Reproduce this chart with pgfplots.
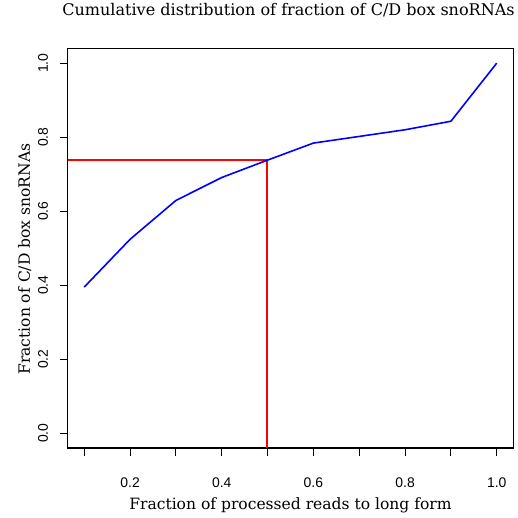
\documentclass[border=0pt]{standalone}
\usepackage{pgfplots}
\pgfplotsset{compat=1.18}
\usepackage{fontspec}
\setmainfont{DejaVu Serif}
\newfontfamily\tickfont{Liberation Sans}
\definecolor{rblue}{RGB}{0,0,255}
\definecolor{rred}{RGB}{255,0,0}
\begin{document}
\begin{tikzpicture}
\begin{axis}[
  name=ax,
  scale only axis,
  width=447bp, height=401bp,
  xmin=0.064, xmax=1.036,
  ymin=-0.04, ymax=1.04,
  axis line style={line width=1.3bp},
  tick style={line width=1.1bp, black},
  tick align=outside,
  major tick length=8bp,
  xtick pos=left, ytick pos=left,
  xtick={0.1,0.2,0.3,0.4,0.5,0.6,0.7,0.8,0.9,1.0},
  xticklabels={{},0.2,{},0.4,{},0.6,{},0.8,{},1.0},
  ytick={0,0.2,0.4,0.6,0.8,1.0},
  yticklabels={0.0,0.2,0.4,0.6,0.8,1.0},
  xticklabel style={font=\tickfont\fontsize{14bp}{16bp}\selectfont, anchor=base, yshift=-32bp},
  yticklabel style={font=\tickfont\fontsize{14bp}{16bp}\selectfont, rotate=90, anchor=base, yshift=12bp},
  title={Cumulative distribution of fraction of C/D box snoRNAs},
  title style={font=\fontsize{16.1bp}{18bp}\selectfont, anchor=base, at={(0.5,1)}, yshift=27bp, xshift=-2bp},
  xlabel={Fraction of processed reads to long form},
  ylabel={Fraction of C/D box snoRNAs},
  xlabel style={font=\fontsize{15.6bp}{18bp}\selectfont, at={(rel axis cs:0.5,0)}, anchor=base, yshift=-62bp},
  ylabel style={font=\fontsize{15.6bp}{18bp}\selectfont, at={(rel axis cs:0,0.5)}, anchor=base, yshift=38bp, xshift=-11bp},
  clip=true,
]
\addplot[draw=rred, line width=1.8bp] coordinates {
  (0.064,0.738) (0.4985,0.738) (0.4985,-0.04)
};
\addplot[color=rblue, line width=1.6bp] coordinates {
  (0.1,0.395) (0.2,0.524) (0.3,0.629) (0.4,0.691) (0.5,0.738)
  (0.6,0.784) (0.7,0.802) (0.8,0.820) (0.9,0.843) (1.0,1.0)
};
\end{axis}
\path (ax.south west) ++(-68bp,-70bp) coordinate (bl);
\path (ax.north east) ++(0bp,47bp) coordinate (tr);
\path[use as bounding box] (bl) rectangle (tr);
\end{tikzpicture}
\end{document}
